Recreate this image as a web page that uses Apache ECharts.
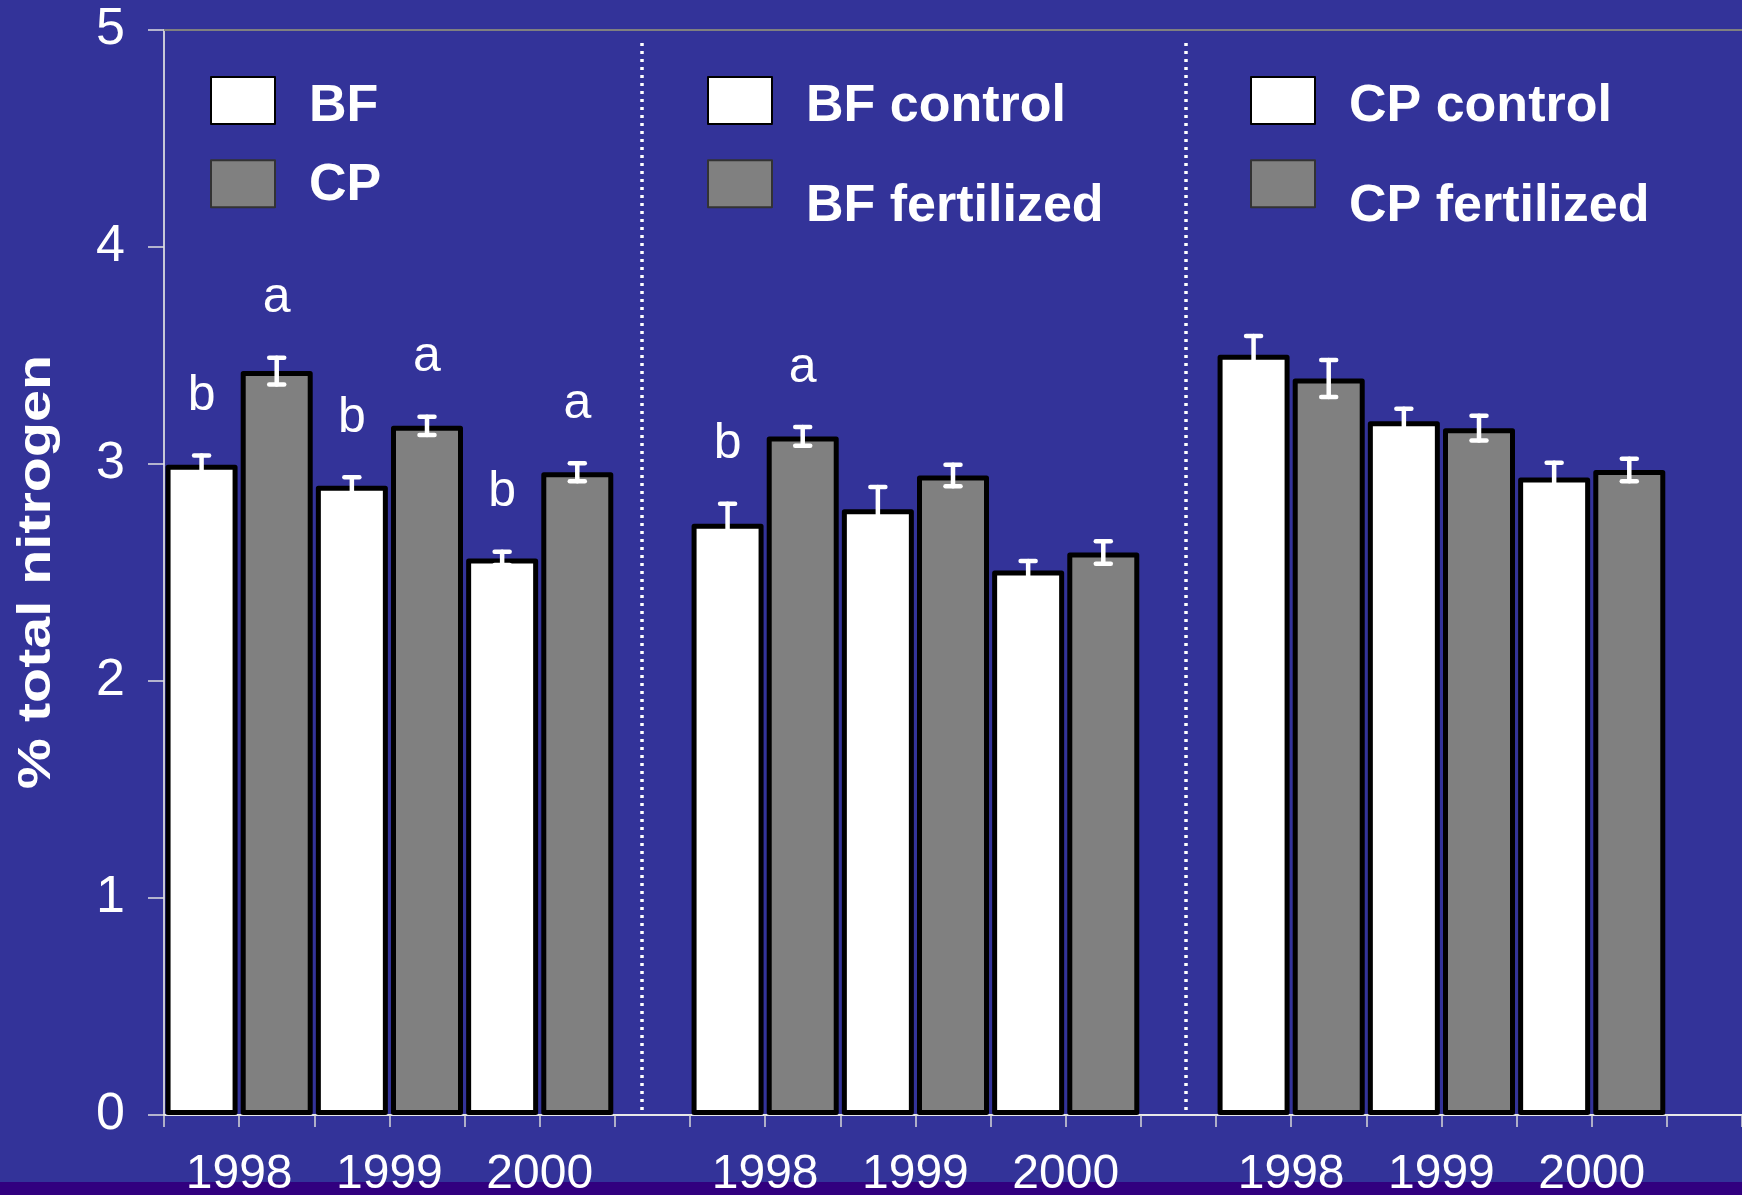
<!DOCTYPE html>
<html>
<head>
<meta charset="utf-8">
<script src="https://cdn.jsdelivr.net/npm/echarts@6/dist/echarts.min.js"></script>
<style>
  html, body { margin: 0; padding: 0; background: #333399; }
  #chart { width: 1742px; height: 1195px; }
</style>
</head>
<body>
<div id="chart"></div>
<script>
// ---- data ---------------------------------------------------------------
const years = ['1998', '1999', '2000'];

// Panel 1: BF vs CP
const bfValues = [2.996, 2.900, 2.565];
const bfErrors = [0.043, 0.039, 0.031];
const bfLetters = ['b', 'b', 'b'];
const cpValues = [3.428, 3.176, 2.962];
const cpErrors = [0.062, 0.042, 0.041];
const cpLetters = ['a', 'a', 'a'];

// Panel 2: BF control vs BF fertilized
const bfControlValues = [2.725, 2.792, 2.509];
const bfControlErrors = [0.092, 0.102, 0.044];
const bfControlLetters = ['b', '', ''];
const bfFertValues = [3.127, 2.947, 2.592];
const bfFertErrors = [0.043, 0.050, 0.052];
const bfFertLetters = ['a', '', ''];

// Panel 3: CP control vs CP fertilized
const cpControlValues = [3.503, 3.197, 2.938];
const cpControlErrors = [0.087, 0.058, 0.068];
const cpControlLetters = ['', '', ''];
const cpFertValues = [3.394, 3.165, 2.972];
const cpFertErrors = [0.085, 0.057, 0.052];
const cpFertLetters = ['', '', ''];

// ---- layout of the category slots -----------------------------------------
// Each bar takes one slot; panels are separated by one empty slot,
// and one spare slot closes the axis on the right.
const panelStart = [0, 7, 14];
const slotCount = 21;
const slotNames = Array.from({ length: slotCount }, (_, i) => 's' + i);

const FONT = '"Liberation Sans", Arial, Helvetica, sans-serif';
const WHITE_FILL = '#ffffff';
const GRAY_FILL = '#808080';

const specs = [
  { name: 'BF',            panel: 0, pos: 0, values: bfValues,        errors: bfErrors,        letters: bfLetters },
  { name: 'CP',            panel: 0, pos: 1, values: cpValues,        errors: cpErrors,        letters: cpLetters },
  { name: 'BF control',    panel: 1, pos: 0, values: bfControlValues, errors: bfControlErrors, letters: bfControlLetters },
  { name: 'BF fertilized', panel: 1, pos: 1, values: bfFertValues,    errors: bfFertErrors,    letters: bfFertLetters },
  { name: 'CP control',    panel: 2, pos: 0, values: cpControlValues, errors: cpControlErrors, letters: cpControlLetters },
  { name: 'CP fertilized', panel: 2, pos: 1, values: cpFertValues,    errors: cpFertErrors,    letters: cpFertLetters }
];

function slotOf(panel, yearIdx, pos) {
  return panelStart[panel] + yearIdx * 2 + pos;
}

// year label sits on the boundary between the two bars of a pair
const yearLabelAt = {};
panelStart.forEach((start, p) => {
  years.forEach((y, i) => { yearLabelAt[slotOf(p, i, 1)] = y; });
});

// bar series: one per treatment, empty outside its own panel
const barSeries = specs.map(s => {
  const data = new Array(slotCount).fill(null);
  s.values.forEach((v, i) => { data[slotOf(s.panel, i, s.pos)] = v; });
  return {
    name: s.name,
    type: 'bar',
    xAxisIndex: 0,
    yAxisIndex: 0,
    data: data,
    barWidth: 72,
    barGap: '-100%',
    z: 2,
    itemStyle: {
      color: s.pos === 0 ? WHITE_FILL : GRAY_FILL,
      borderColor: '#000000',
      borderWidth: 5,
      borderJoin: 'round'
    }
  };
});

// error bars (+ significance letters) drawn on top of the bars
const errRows = [];
const errLetters = [];
specs.forEach(s => {
  s.values.forEach((v, i) => {
    errRows.push([slotOf(s.panel, i, s.pos), v, s.errors[i]]);
    errLetters.push(s.letters[i]);
  });
});

const errorSeries = {
  type: 'custom',
  xAxisIndex: 0,
  yAxisIndex: 0,
  z: 4,
  silent: true,
  data: errRows,
  encode: { x: 0, y: 1 },
  renderItem: function (params, api) {
    const slot = api.value(0);
    const v = api.value(1);
    const e = api.value(2);
    const hi = api.coord([slot, v + e]);
    const lo = api.coord([slot, v - e]);
    const cx = hi[0];
    const hw = 7.5;
    const lineStyle = { stroke: '#ffffff', lineWidth: 4.5, lineCap: 'round' };
    const children = [
      { type: 'line', shape: { x1: cx, y1: hi[1], x2: cx, y2: lo[1] }, style: lineStyle },
      { type: 'line', shape: { x1: cx - hw, y1: hi[1], x2: cx + hw, y2: hi[1] }, style: lineStyle },
      { type: 'line', shape: { x1: cx - hw, y1: lo[1], x2: cx + hw, y2: lo[1] }, style: lineStyle }
    ];
    const letter = errLetters[params.dataIndex];
    if (letter) {
      children.push({
        type: 'text',
        x: cx,
        y: hi[1] - 59,
        style: {
          text: letter,
          fill: '#ffffff',
          font: '50px ' + FONT,
          align: 'center',
          verticalAlign: 'middle'
        }
      });
    }
    return { type: 'group', children: children };
  }
};

// dotted separators between the three panels
const separatorSeries = {
  type: 'line',
  xAxisIndex: 1,
  yAxisIndex: 0,
  data: [],
  silent: true,
  markLine: {
    silent: true,
    symbol: ['none', 'none'],
    label: { show: false },
    lineStyle: { color: '#ffffff', width: 3.5, type: [3, 5], opacity: 1 },
    data: [
      [{ coord: [6.36, 4.94] }, { coord: [6.36, 0.015] }],
      [{ coord: [13.6, 4.94] }, { coord: [13.6, 0.015] }]
    ]
  }
};

// ---- legends: one small legend per entry ---------------------------------
// The name is written on the second of two short lines, so it sits `drop`
// pixels below the middle of its swatch. The legend box is positioned by
// its bounding rect, which starts half a font height above the first line.
const LEGEND_FONT_SIZE = 52;
function legendEntry(left, swatchTop, name, fill, border, drop) {
  return {
    left: left,
    top: swatchTop + 23.5 - drop - LEGEND_FONT_SIZE / 2,
    orient: 'vertical',
    padding: 0,
    icon: 'rect',
    itemWidth: 64,
    itemHeight: 47,
    selectedMode: false,
    itemStyle: { borderWidth: 2 },
    formatter: n => '\n' + n,
    textStyle: {
      color: '#ffffff',
      fontFamily: FONT,
      fontWeight: 'bold',
      fontSize: LEGEND_FONT_SIZE,
      lineHeight: 2 * drop,
      padding: [0, 0, 0, 29]
    },
    data: [{ name: name, itemStyle: { color: fill, borderColor: border, borderWidth: 2 } }]
  };
}

const option = {
  backgroundColor: '#333399',
  animation: false,
  grid: { left: 164, right: 0, top: 30, bottom: 80, containLabel: false, outerBoundsMode: 'none' },
  legend: [
    legendEntry(210, 77, 'BF', WHITE_FILL, '#000000', 6.4),
    legendEntry(210, 160.3, 'CP', GRAY_FILL, '#333333', 1.5),
    legendEntry(707, 77, 'BF control', WHITE_FILL, '#000000', 6.4),
    legendEntry(707, 160.3, 'BF fertilized', GRAY_FILL, '#333333', 23.2),
    legendEntry(1250, 77, 'CP control', WHITE_FILL, '#000000', 6.4),
    legendEntry(1250, 160.3, 'CP fertilized', GRAY_FILL, '#333333', 23.2)
  ],
  graphic: [
    {
      type: 'rect',
      z: -100,
      silent: true,
      shape: { x: 0, y: 1182, width: 1742, height: 13 },
      style: { fill: '#31007f' }
    },
    {
      type: 'text',
      x: 37,
      y: 572,
      rotation: Math.PI / 2,
      scaleX: 1.25,
      silent: true,
      style: {
        text: '% total nitrogen',
        fill: '#ffffff',
        font: 'bold 46px ' + FONT,
        align: 'center',
        verticalAlign: 'middle'
      }
    }
  ],
  xAxis: [
    {
      type: 'category',
      position: 'bottom',
      data: slotNames,
      boundaryGap: true,
      axisLine: { show: true, onZero: false, lineStyle: { color: '#e8e8e8', width: 2 } },
      axisTick: { show: true, interval: 0, alignWithLabel: false, length: 12,
                  lineStyle: { color: '#d8d8d8', width: 1.5 } },
      axisLabel: { show: false },
      splitLine: { show: false }
    },
    {
      type: 'value',
      position: 'bottom',
      min: 0,
      max: slotCount,
      interval: 1,
      axisLine: { show: false },
      axisTick: { show: false },
      splitLine: { show: false },
      axisLabel: {
        color: '#ffffff',
        fontFamily: FONT,
        fontSize: 48,
        margin: 36,
        formatter: v => yearLabelAt[v] || ''
      }
    },
    {
      type: 'value',
      position: 'top',
      min: 0,
      max: slotCount,
      axisLine: { show: true, lineStyle: { color: '#808080', width: 2 } },
      axisTick: { show: false },
      axisLabel: { show: false },
      splitLine: { show: false }
    }
  ],
  yAxis: {
    type: 'value',
    min: 0,
    max: 5,
    interval: 1,
    axisLine: { show: true, lineStyle: { color: '#c8c8d8', width: 2 } },
    axisTick: { show: true, length: 16, lineStyle: { color: '#e0e0e0', width: 1.5 } },
    axisLabel: { color: '#ffffff', fontFamily: FONT, fontSize: 52, margin: 39 },
    splitLine: { show: false }
  },
  series: barSeries.concat([errorSeries, separatorSeries])
};

const chart = echarts.init(document.getElementById('chart'), null, { renderer: 'canvas' });
chart.setOption(option);
</script>
</body>
</html>
